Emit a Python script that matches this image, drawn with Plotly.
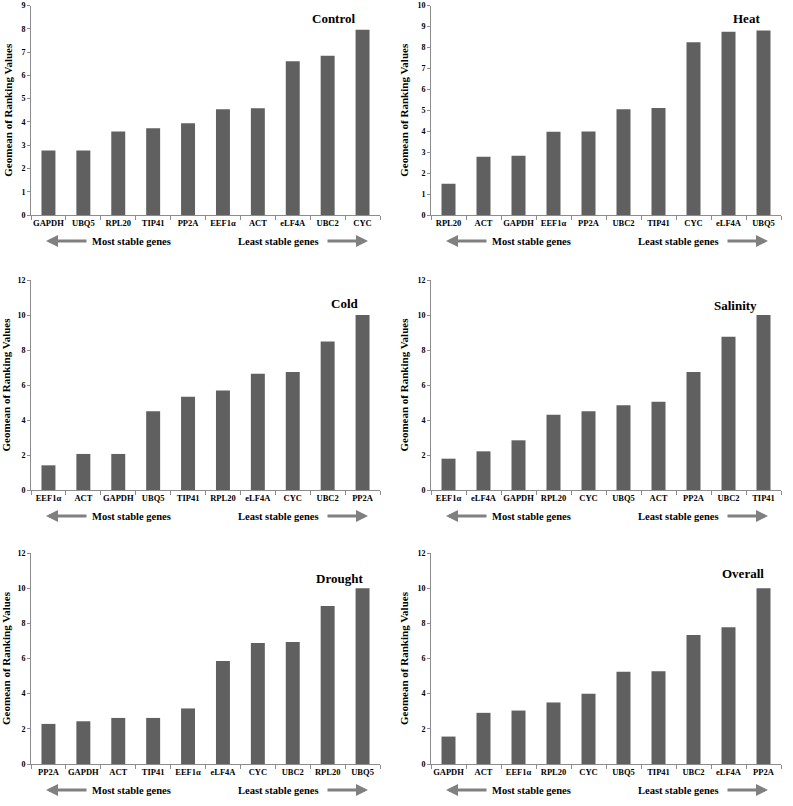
import plotly.graph_objects as go

W, H = 793, 806

control_genes = ["GAPDH", "UBQ5", "RPL20", "TIP41", "PP2A", "EEF1α", "ACT", "eLF4A", "UBC2", "CYC"]
control_vals = [2.77, 2.77, 3.59, 3.73, 3.94, 4.54, 4.59, 6.61, 6.84, 7.96]

heat_genes = ["RPL20", "ACT", "GAPDH", "EEF1α", "PP2A", "UBC2", "TIP41", "CYC", "eLF4A", "UBQ5"]
heat_vals = [1.49, 2.78, 2.83, 3.97, 3.98, 5.05, 5.11, 8.24, 8.75, 8.81]

cold_genes = ["EEF1α", "ACT", "GAPDH", "UBQ5", "TIP41", "RPL20", "eLF4A", "CYC", "UBC2", "PP2A"]
cold_vals = [1.41, 2.06, 2.06, 4.50, 5.33, 5.68, 6.65, 6.74, 8.48, 10.0]

salinity_genes = ["EEF1α", "eLF4A", "GAPDH", "RPL20", "CYC", "UBQ5", "ACT", "PP2A", "UBC2", "TIP41"]
salinity_vals = [1.79, 2.21, 2.84, 4.30, 4.50, 4.84, 5.05, 6.74, 8.76, 10.0]

drought_genes = ["PP2A", "GAPDH", "ACT", "TIP41", "EEF1α", "eLF4A", "CYC", "UBC2", "RPL20", "UBQ5"]
drought_vals = [2.28, 2.43, 2.62, 2.62, 3.16, 5.86, 6.88, 6.94, 8.99, 10.0]

overall_genes = ["GAPDH", "ACT", "EEF1α", "RPL20", "CYC", "UBQ5", "TIP41", "UBC2", "eLF4A", "PP2A"]
overall_vals = [1.56, 2.91, 3.04, 3.50, 3.99, 5.24, 5.28, 7.34, 7.78, 10.0]

titles = ["Control", "Heat", "Cold", "Salinity", "Drought", "Overall"]
ymax = [9, 10, 12, 12, 12, 12]
ydtick = [1, 1, 2, 2, 2, 2]

panels = [
    (control_genes, control_vals),
    (heat_genes, heat_vals),
    (cold_genes, cold_vals),
    (salinity_genes, salinity_vals),
    (drought_genes, drought_vals),
    (overall_genes, overall_vals),
]

# pixel layout in page coordinates (left, right, top, bottom of plotting area)
cols_px = [(31, 380), (431, 781)]
rows_px = [(5.5, 215), (280, 490), (553, 764)]
# panel-title placement (right edge / vertical centre in axis-domain fractions)
title_pos = [(0.934, 0.94), (0.946, 0.94), (0.945, 0.886), (0.937, 0.88), (0.957, 0.88), (0.957, 0.905)]

BAR = "#606060"
AX = "#8c8c8c"
FONT = "Liberation Serif"


def px_x(p):
    return min(1.0, max(0.0, p / W))


def px_y(p):
    return min(1.0, max(0.0, 1 - p / H))


fig = go.Figure()
layout = dict(
    width=W, height=H, margin=dict(l=0, r=0, t=0, b=0, autoexpand=False),
    paper_bgcolor="white", plot_bgcolor="white", showlegend=False,
    font=dict(family=FONT, color="black"),
)
annotations = []

for i, ((genes, vals), title) in enumerate(zip(panels, titles)):
    r, c = divmod(i, 2)
    x0, x1 = cols_px[c]
    top, bot = rows_px[r]
    n = i + 1
    xa = "x" if n == 1 else f"x{n}"
    ya = "y" if n == 1 else f"y{n}"
    fig.add_trace(go.Bar(x=genes, y=vals, marker=dict(color=BAR, line=dict(width=0)),
                         width=0.4, xaxis=xa, yaxis=ya, hoverinfo="skip"))
    layout[f"xaxis{'' if n == 1 else n}"] = dict(
        domain=[px_x(x0), px_x(x1)], anchor=ya, type="category", automargin=False,
        showline=True, linecolor=AX, linewidth=1, showgrid=False,
        ticks="outside", tickson="boundaries", ticklen=4, tickcolor=AX, tickangle=0,
        tickfont=dict(family=FONT, size=8.5, color="black", weight="bold"),
        fixedrange=True,
    )
    layout[f"yaxis{'' if n == 1 else n}"] = dict(
        domain=[px_y(bot), px_y(top)], anchor=xa, automargin=False,
        range=[0, ymax[i]], dtick=ydtick[i], ticklabeloverflow="allow",
        showline=True, linecolor=AX, linewidth=1, showgrid=False, zeroline=False,
        ticks="outside", ticklen=3, tickcolor=AX,
        tickfont=dict(family=FONT, size=8, color="black", weight="bold"),
        title=dict(text="Geomean of Ranking Values", standoff=6,
                   font=dict(family=FONT, size=11, color="black", weight="bold")),
        fixedrange=True,
    )
    tx, tyd = title_pos[i]
    annotations.append(dict(
        text=f"<b>{title}</b>", xref=f"{xa} domain", yref=f"{ya} domain",
        x=tx, y=tyd, xanchor="right", yanchor="middle",
        showarrow=False, font=dict(family=FONT, size=13, color="black"),
    ))
    # stability labels
    ty = px_y(bot + 26)
    annotations.append(dict(
        text="<b>Most stable genes</b>", xref="paper", yref="paper",
        x=px_x(x0 + 59), y=ty, xanchor="left", yanchor="middle", showarrow=False,
        font=dict(family=FONT, size=10.5, color="black"),
    ))
    annotations.append(dict(
        text="<b>Least stable genes</b>", xref="paper", yref="paper",
        x=px_x(x0 + 290), y=ty, xanchor="right", yanchor="middle", showarrow=False,
        font=dict(family=FONT, size=10.5, color="black"),
    ))
    # arrows
    annotations.append(dict(
        text="", xref="paper", yref="paper", x=px_x(x0 + 15), y=ty,
        axref="pixel", ayref="pixel", ax=42, ay=0,
        showarrow=True, arrowhead=2, arrowsize=0.8, arrowwidth=3, arrowcolor="#808080",
    ))
    annotations.append(dict(
        text="", xref="paper", yref="paper", x=px_x(x0 + 337), y=ty,
        axref="pixel", ayref="pixel", ax=-42, ay=0,
        showarrow=True, arrowhead=2, arrowsize=0.8, arrowwidth=3, arrowcolor="#808080",
    ))

layout["annotations"] = annotations
fig.update_layout(**layout)
# remove the default page margin so the figure fills the browser window exactly
fig.write_html("out.html", config={"displayModeBar": False, "staticPlot": True},
               post_script="document.body.style.margin='0px';")
